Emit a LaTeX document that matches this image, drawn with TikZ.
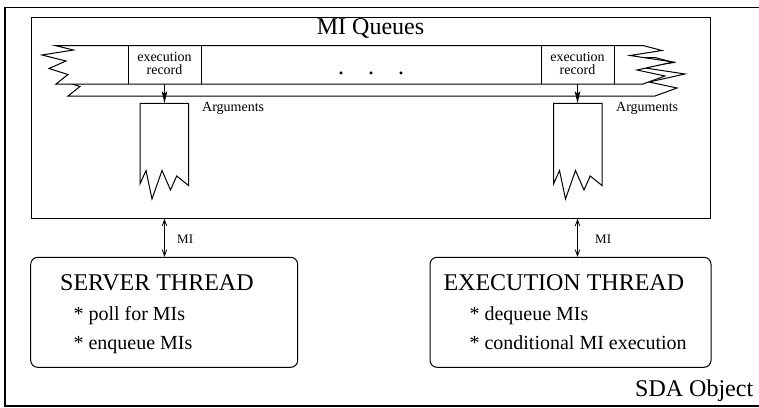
\documentclass[tikz,border=0pt]{standalone}
\usepackage{fontspec}
\setmainfont{Liberation Serif}
\usetikzlibrary{arrows.meta}

\begin{document}
\begin{tikzpicture}[x=1pt,y=-1pt,line join=miter,
  ln/.style={line width=1pt},
  big/.style={font=\fontsize{24}{28}\selectfont,inner sep=0pt},
  mid/.style={font=\fontsize{20}{24}\selectfont,inner sep=0pt},
  small/.style={font=\fontsize{14}{13.4}\selectfont,inner sep=0pt},
  tiny/.style={font=\fontsize{13}{15}\selectfont,inner sep=0pt},
  downarrow/.style={ln,-{Stealth[length=12pt,width=5.5pt,inset=2.5pt]}},
  bothway/.style={line width=0.8pt,{Straight Barb[length=6pt,width=4.5pt]}-{Straight Barb[length=6pt,width=4.5pt]}},
  threadbox/.style={draw,ln,rounded corners=7pt,inner sep=0pt},
  argbox/.style={ln,fill=white}]
\useasboundingbox (0,0) rectangle (759,407);

% outer object frame (continues past the right edge)
\draw[line width=1.2pt] (762,7.3) -- (5,7.3) -- (5,406) -- (762,406);
\node[big,anchor=base west] (sda) at (635,396.7) {SDA Object};

% queue panel
\node[draw,ln,minimum width=679pt,minimum height=201pt,inner sep=0pt] (panel) at (370.5,117.8) {};
\node[big,anchor=base] (title) at (370.5,34.5) {MI Queues};

% queue slab: lower face shifted down-right, upper face in front
\def\slab{(55,45.5) -- (643,45.5) -- (662,50.5) -- (630,55.5) -- (673,62) -- (637,70)
  -- (665,76) -- (643,84) -- (56,84) -- (68,74.5) -- (49,68.5) -- (66,61) -- (42,55)
  -- (73.5,50) -- cycle}
\draw[ln,fill=white,shift={(12pt,-12pt)}] \slab;
\draw[ln,fill=white] \slab;

% execution record cells
\draw[ln] (128,45.5) -- (128,84) (201,45.5) -- (201,84);
\draw[ln] (541,45.5) -- (541,84) (614,45.5) -- (614,84);
\node[small,align=center] (recL) at (164.5,63.6) {execution\\record};
\node[small,align=center] (recR) at (577.5,63.6) {execution\\record};
\coordinate (cellL) at (164.5,84);
\coordinate (cellR) at (577.5,84);
\node[big,anchor=base] (dots) at (371,74.5) {.\hspace{24pt}.\hspace{24pt}.};

% argument stacks
\draw[argbox] (140,103.3) -- (188.5,103.3) -- (188.5,185.5) -- (176.7,176) -- (170.5,190)
  -- (162,170.5) -- (152,199) -- (146,170.5) -- (140,184) -- cycle;
\draw[argbox] (553.5,103.3) -- (602,103.3) -- (602,185.5) -- (590.2,176) -- (584,190)
  -- (575.5,170.5) -- (565.5,199) -- (559.5,170.5) -- (553.5,184) -- cycle;
\coordinate (argL) at (164.5,103.3);
\coordinate (argR) at (577.5,103.3);
\node[small,anchor=base west] (argtxtL) at (202,111.7) {Arguments};
\node[small,anchor=base west] (argtxtR) at (616,111.7) {Arguments};

\draw[downarrow] (cellL) -- (argL);
\draw[downarrow] (cellR) -- (argR);

% threads
\node[threadbox,minimum width=267pt,minimum height=110pt] (srv) at (164.2,312.3) {};
\node[threadbox,minimum width=281pt,minimum height=110pt] (exe) at (570.5,312.3) {};

\node[big,anchor=base west] (srvtitle) at (60,290.7) {SERVER THREAD};
\node[mid,anchor=base west] (srv1) at (73.3,320.3) {* poll for MIs};
\node[mid,anchor=base west] (srv2) at (73.3,349) {* enqueue MIs};

\node[big,anchor=base west] (exetitle) at (443.3,290.3) {EXECUTION THREAD};
\node[mid,anchor=base west] (exe1) at (469.3,320.3) {* dequeue MIs};
\node[mid,anchor=base west] (exe2) at (469.3,349.3) {* conditional MI execution};

% MI traffic between the panel and the threads
\draw[bothway] (panel.south -| argL) -- (srv.north -| argL);
\node[tiny,anchor=base west] (miL) at (177,243) {MI};
\draw[bothway] (panel.south -| argR) -- (exe.north -| argR);
\node[tiny,anchor=base west] (miR) at (595,243) {MI};
\end{tikzpicture}
\end{document}
